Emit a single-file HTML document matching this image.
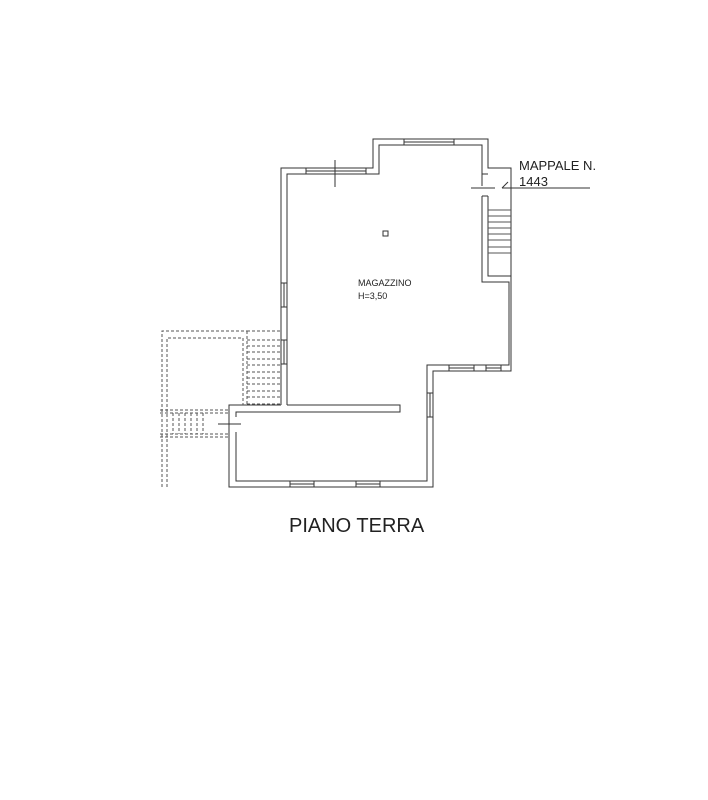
<!DOCTYPE html>
<html><head><style>body{margin:0;background:#fff}svg{display:block}</style></head>
<body>
<svg width="708" height="800" viewBox="0 0 708 800" xmlns="http://www.w3.org/2000/svg">
<g fill="none" stroke="#333" stroke-width="1">
<!-- outer contour -->
<polyline points="281,405 281,168 373,168 373,139 488,139 488,168 511,168 511,371 433,371 433,487 229,487 229,405 281,405"/>
<!-- inner contour -->
<polyline points="287,405 287,174 379,174 379,145 482,145 482,174 488,174"/>
<polyline points="482,196 482,282 509,282 509,365 427,365 427,481 236,481 236,432"/>
<polyline points="236,417 236,412 400,412 400,405 287,405"/>
<!-- stair enclosure -->
<polyline points="488,196 488,276 511,276"/>
<line x1="482" y1="196" x2="488" y2="196"/>
<line x1="482" y1="174" x2="482" y2="186"/>
<!-- stair treads -->
<g stroke="#555">
<line x1="488" y1="210" x2="511" y2="210"/><line x1="488" y1="216" x2="511" y2="216"/>
<line x1="488" y1="222" x2="511" y2="222"/><line x1="488" y1="228" x2="511" y2="228"/>
<line x1="488" y1="234" x2="511" y2="234"/><line x1="488" y1="240" x2="511" y2="240"/>
<line x1="488" y1="247" x2="511" y2="247"/><line x1="488" y1="253" x2="511" y2="253"/>
</g>
<!-- windows -->
<rect x="306" y="168" width="60" height="6" fill="#fff"/><line x1="306" y1="171" x2="366" y2="171"/>
<rect x="404" y="139" width="50" height="6" fill="#fff"/><line x1="404" y1="142" x2="454" y2="142"/>
<rect x="281" y="283" width="6" height="24" fill="#fff"/><line x1="284" y1="283" x2="284" y2="307"/>
<rect x="281" y="340" width="6" height="24" fill="#fff"/><line x1="284" y1="340" x2="284" y2="364"/>
<rect x="449" y="365" width="25" height="6" fill="#fff"/><line x1="449" y1="368" x2="474" y2="368"/>
<rect x="486" y="365" width="15" height="6" fill="#fff"/><line x1="486" y1="368" x2="501" y2="368"/>
<rect x="427" y="393" width="6" height="24" fill="#fff"/><line x1="430" y1="393" x2="430" y2="417"/>
<rect x="290" y="481" width="24" height="6" fill="#fff"/><line x1="290" y1="484" x2="314" y2="484"/>
<rect x="356" y="481" width="24" height="6" fill="#fff"/><line x1="356" y1="484" x2="380" y2="484"/>
<!-- marks -->
<line x1="335" y1="160" x2="335" y2="187"/>
<line x1="471" y1="188" x2="495" y2="188"/>
<line x1="502" y1="188" x2="508" y2="182"/>
<line x1="502" y1="188" x2="590" y2="188"/>
<line x1="218" y1="424" x2="241" y2="424"/>
<rect x="383" y="231" width="5" height="5"/>
</g>
<!-- dashed -->
<g fill="none" stroke="#555" stroke-width="1" stroke-dasharray="3,2">
<polyline points="162,487 162,331 247,331"/>
<polyline points="167,487 167,338 243,338 243,405"/>
<line x1="247" y1="331" x2="247" y2="405"/>
<line x1="247" y1="331" x2="281" y2="331"/>
<line x1="247" y1="340" x2="281" y2="340"/><line x1="247" y1="346" x2="281" y2="346"/>
<line x1="247" y1="352" x2="281" y2="352"/><line x1="247" y1="359" x2="281" y2="359"/>
<line x1="247" y1="365" x2="281" y2="365"/><line x1="247" y1="372" x2="281" y2="372"/>
<line x1="247" y1="378" x2="281" y2="378"/><line x1="247" y1="384" x2="281" y2="384"/>
<line x1="247" y1="391" x2="281" y2="391"/><line x1="247" y1="397" x2="281" y2="397"/>
<line x1="247" y1="404" x2="281" y2="404"/>
<line x1="160" y1="410" x2="229" y2="410"/><line x1="160" y1="413" x2="229" y2="413"/>
<line x1="160" y1="437" x2="229" y2="437"/><line x1="160" y1="434" x2="229" y2="434"/>
<line x1="173" y1="413" x2="173" y2="434"/><line x1="179" y1="413" x2="179" y2="434"/>
<line x1="185" y1="413" x2="185" y2="434"/><line x1="191" y1="413" x2="191" y2="434"/>
<line x1="197" y1="413" x2="197" y2="434"/><line x1="203" y1="413" x2="203" y2="434"/>
</g>
<g font-family="Liberation Sans, sans-serif" fill="#222">
<text x="358" y="286" font-size="9">MAGAZZINO</text>
<text x="358" y="299" font-size="9">H=3,50</text>
<text x="519" y="170" font-size="13">MAPPALE N.</text>
<text x="519" y="186" font-size="13">1443</text>
<text x="289" y="532" font-size="20">PIANO TERRA</text>
</g>
</svg>
</body></html>
